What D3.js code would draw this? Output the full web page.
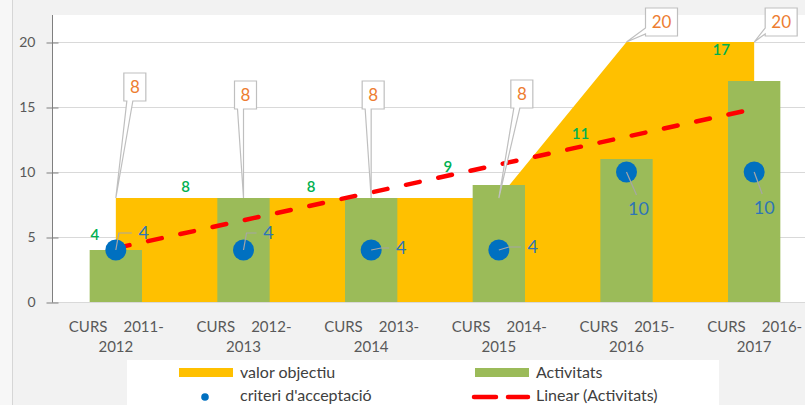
<!DOCTYPE html>
<html>
<head>
<meta charset="utf-8">
<script src="https://cdn.jsdelivr.net/npm/d3@7"></script>
<style>
  body { margin: 0; background: #f2f2f2; }
  text { font-family: Lato, "Open Sans", sans-serif; }
</style>
</head>
<body>
<div class="chart"></div>
<script>
// data
var courses = ['2011-2012', '2012-2013', '2013-2014', '2014-2015', '2015-2016', '2016-2017'];
var objectiu = [8, 8, 8, 8, 20, 20];
var activitats = [4, 8, 8, 9, 11, 17];
var criteri = [4, 4, 4, 4, 10, 10];
var yTicks = [0, 5, 10, 15, 20];

// hand-moved label offsets (px), like the moved labels in the original
var actLabelShift = [[-21, -15], [-58, -11], [-60, -11], [-51, -18], [-46, -25], [-33, -31]];
var critLabelShift = [[28, -17], [25, -17], [30, -2], [34, -3], [12, 37], [10, 36]];
var objBoxShift = [[19, -111], [2, -103], [2, -103], [23, -104], [35, -20], [27, -20]];

var W = 805, H = 405;
var plot = { left: 52, top: 15, bottom: 302, right: 818 };

var svg = d3.select('.chart')
  .append('svg')
    .attr('width', W)
    .attr('height', H);

svg.append('rect').attr('width', W).attr('height', H).attr('fill', '#f2f2f2');
svg.append('rect').attr('width', 12).attr('height', H).attr('fill', '#f7f7f7');
svg.append('line').attr('x1', 12.5).attr('x2', 12.5).attr('y1', 0).attr('y2', H)
  .attr('stroke', '#d6d6d6');

svg.append('rect')
  .attr('x', plot.left).attr('y', plot.top)
  .attr('width', W - plot.left).attr('height', plot.bottom - plot.top)
  .attr('fill', '#fff');

var xScale = d3.scaleBand()
  .domain(courses)
  .range([plot.left, plot.right]);
var cx = d => xScale(d) + xScale.bandwidth() / 2;

var yScale = d3.scaleLinear()
  .domain([0, 20])
  .range([plot.bottom, 42]);

// gridlines
svg.append('g')
  .selectAll('line')
  .data(yTicks)
  .enter()
  .append('line')
    .attr('x1', plot.left).attr('x2', W)
    .attr('y1', d => yScale(d) + 0.5).attr('y2', d => yScale(d) + 0.5)
    .attr('stroke', '#d9d9d9');

// y axis
var yAxis = d3.axisLeft(yScale).tickValues(yTicks).tickSize(6).tickPadding(10);
var yG = svg.append('g')
  .attr('transform', `translate(${plot.left + 0.5}, 0.5)`)
  .call(yAxis);
yG.select('.domain').attr('d', `M0,${plot.top - 0.5}V${plot.bottom}`).attr('stroke', '#7f7f7f');
yG.selectAll('.tick line').attr('x2', -6).attr('x1', 6).attr('stroke', '#7f7f7f');
yG.selectAll('.tick text')
  .attr('fill', '#595959')
  .style('font-size', '14px')
  .attr('x', -17);

// objective area
var area = d3.area()
  .x((d, i) => cx(courses[i]))
  .y0(yScale(0))
  .y1(d => yScale(d));
svg.append('path')
  .datum(objectiu)
  .attr('d', area)
  .attr('fill', '#ffc000');

// activity bars
var barW = xScale.bandwidth() * 0.41;
svg.selectAll('rect.bar')
  .data(activitats)
  .enter()
  .append('rect')
    .attr('class', 'bar')
    .attr('x', (d, i) => cx(courses[i]) - barW / 2)
    .attr('y', d => yScale(d))
    .attr('width', barW)
    .attr('height', d => yScale(0) - yScale(d))
    .attr('fill', '#9bbb59');

// linear trend of activitats
var mx = d3.mean(activitats, (d, i) => i + 1);
var my = d3.mean(activitats);
var slope = d3.sum(activitats, (d, i) => (i + 1 - mx) * (d - my)) /
            d3.sum(activitats, (d, i) => (i + 1 - mx) * (i + 1 - mx));
var icpt = my - slope * mx;
var trend = courses.map((c, i) => icpt + slope * (i + 1));
svg.append('path')
  .datum(trend)
  .attr('d', d3.line().x((d, i) => cx(courses[i])).y(d => yScale(d)))
  .attr('fill', 'none')
  .attr('stroke', '#ff0000')
  .attr('stroke-width', 4.5)
  .attr('stroke-linecap', 'round')
  .attr('stroke-dasharray', '14 19');

// acceptance criteria points
svg.selectAll('circle.crit')
  .data(criteri)
  .enter()
  .append('circle')
    .attr('class', 'crit')
    .attr('cx', (d, i) => cx(courses[i]))
    .attr('cy', d => yScale(d))
    .attr('r', 10.5)
    .attr('fill', '#0070c0');

// leader lines + labels for criteria
criteri.forEach(function(d, i) {
  var px = cx(courses[i]), py = yScale(d);
  var s = critLabelShift[i];
  var lx = px + s[0], ly = py + s[1];
  var path;
  if (s[1] < -8) path = `M${px},${py}L${px + 3},${ly}H${lx - 12}`;
  else if (s[1] < 8) path = `M${px},${py}L${px + 10},${ly}H${lx - 12}`;
  else path = `M${px},${py}L${lx - 2},${ly - 14}`;
  svg.append('path').attr('d', path).attr('fill', 'none')
    .attr('stroke', '#a6a6a6').attr('stroke-width', 1.2);
  svg.append('text')
    .attr('x', lx).attr('y', ly)
    .attr('dy', '0.35em')
    .attr('text-anchor', 'middle')
    .attr('fill', '#2e75b6')
    .style('font-size', '18px')
    .text(d);
});

// activity labels
svg.selectAll('text.act')
  .data(activitats)
  .enter()
  .append('text')
    .attr('class', 'act')
    .attr('x', (d, i) => cx(courses[i]) + actLabelShift[i][0])
    .attr('y', (d, i) => yScale(d) + actLabelShift[i][1])
    .attr('dy', '0.35em')
    .attr('text-anchor', 'middle')
    .attr('fill', '#00b050')
    .style('font-size', '15px')
    .style('font-weight', 600)
    .text(d => d);

// objective callouts
objectiu.forEach(function(d, i) {
  var tx = cx(courses[i]), ty = yScale(d);
  var s = objBoxShift[i];
  var bw = String(d).length > 1 ? 32 : 22, bh = 28;
  var x0 = tx + s[0] - bw / 2, y0 = ty + s[1] - bh / 2;
  var x1 = x0 + bw, y1 = y0 + bh;
  var p;
  if (s[1] < -60) {
    p = `M${x0},${y0}H${x1}V${y1}H${x0 + 9}L${tx},${ty}L${x0 + 3},${y1}H${x0}Z`;
  } else {
    p = `M${x0},${y0}H${x1}V${y1}H${x0}V${y1 - 2}L${tx},${ty}L${x0},${y1 - 8}Z`;
  }
  svg.append('path').attr('d', p)
    .attr('fill', '#fff').attr('stroke', '#bfbfbf').attr('stroke-width', 1.2);
  svg.append('text')
    .attr('x', x0 + bw / 2).attr('y', y0 + bh / 2)
    .attr('dy', '0.35em')
    .attr('text-anchor', 'middle')
    .attr('fill', '#ed7d31')
    .style('font-size', '17px')
    .text(d);
});

// category labels
var xl = svg.append('g').selectAll('g')
  .data(courses)
  .enter()
  .append('g')
    .attr('transform', d => `translate(${cx(d)}, 0)`);
xl.append('text').attr('x', -47).attr('y', 332).text('CURS');
xl.append('text').attr('x', 48).attr('y', 332).attr('text-anchor', 'end')
  .text(d => d.split('-')[0] + '-');
xl.append('text').attr('x', 0).attr('y', 352).attr('text-anchor', 'middle')
  .text(d => d.split('-')[1]);
xl.selectAll('text').attr('fill', '#595959').style('font-size', '15px');

// legend
var lg = svg.append('g');
lg.append('rect').attr('x', 127).attr('y', 360).attr('width', 592).attr('height', 50).attr('fill', '#fff');
lg.append('rect').attr('x', 179).attr('y', 368).attr('width', 54).attr('height', 9).attr('fill', '#ffc000');
lg.append('rect').attr('x', 475).attr('y', 368).attr('width', 54).attr('height', 9).attr('fill', '#9bbb59');
lg.append('circle').attr('cx', 205).attr('cy', 397).attr('r', 3.8).attr('fill', '#0070c0');
lg.append('line').attr('x1', 474).attr('x2', 528).attr('y1', 397).attr('y2', 397)
  .attr('stroke', '#ff0000').attr('stroke-width', 4.5)
  .attr('stroke-linecap', 'round').attr('stroke-dasharray', '22 12');
var legTexts = [['valor objectiu', 240, 378], ['Activitats', 536, 378],
                ["criteri d'acceptaci\u00f3", 240, 401], ['Linear (Activitats)', 536, 401]];
lg.selectAll('text.leg')
  .data(legTexts)
  .enter()
  .append('text')
    .attr('x', d => d[1]).attr('y', d => d[2])
    .attr('fill', '#404040')
    .style('font-size', '16px')
    .text(d => d[0]);
</script>
</body>
</html>
